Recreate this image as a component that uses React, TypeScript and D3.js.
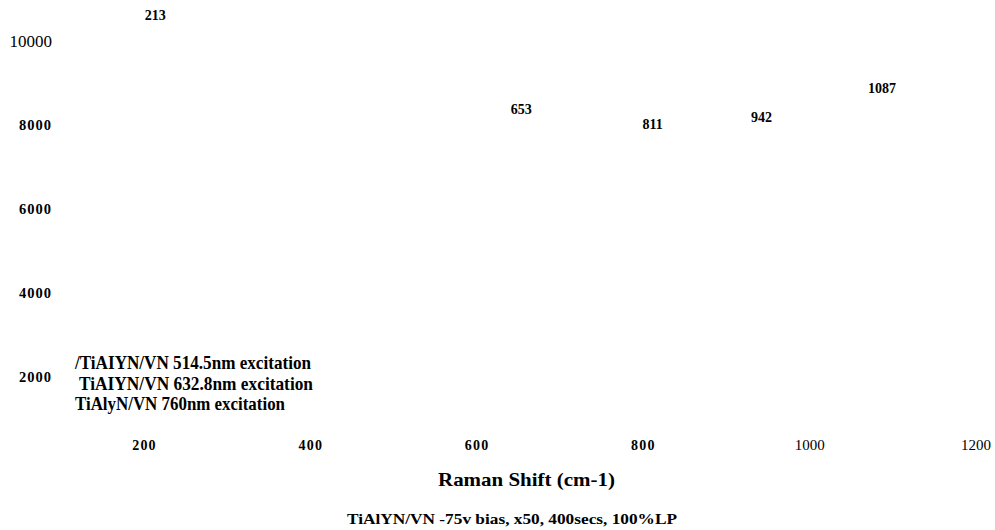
import * as d3 from "d3";

// axis ticks
const xTicks = [200, 400, 600, 800, 1000, 1200];
const xTickBold = [true, true, true, true, false, false];
const yTicks = [10000, 8000, 6000, 4000, 2000];
const yTickBold = [false, true, true, true, true];

// peak annotations (shift, label height)
const peakShift = [213, 653, 811, 942, 1087];
const peakLevel = [10620, 8380, 8030, 8180, 8880];

// legend entries
const legendNames = [
	"/TiAIYN/VN 514.5nm excitation",
	"TiAIYN/VN 632.8nm excitation",
	"TiAlyN/VN 760nm excitation",
];
const legendWidths = [236, 234, 210];
const legendIndent = [75, 79, 75];

const xTitle = "Raman Shift (cm-1)";
const footnote = "TiAlYN/VN -75v bias, x50, 400secs, 100%LP";

const W = 995;
const H = 530;
const font = "'Liberation Serif', 'Times New Roman', serif";

export default function App() {
	const x = d3.scaleLinear().domain([200, 1200]).range([144.5, 976]);
	const y = d3.scaleLinear().domain([2000, 10000]).range([377, 41]);

	return (
		<svg
			width={W}
			height={H}
			style={{ position: "absolute", left: 0, top: 0, background: "#fff" }}
			fontFamily={font}
		>
			{/* y ticks */}
			{yTicks.map((t, i) => (
				<text
					key={"y" + t}
					x={52}
					y={y(t) + (yTickBold[i] ? 5 : 6)}
					textAnchor="end"
					fontSize={yTickBold[i] ? 14.5 : 17}
					fontWeight={yTickBold[i] ? "bold" : "normal"}
					letterSpacing={yTickBold[i] ? 1 : 0}
				>
					{t}
				</text>
			))}

			{/* x ticks */}
			{xTicks.map((t, i) => (
				<text
					key={"x" + t}
					x={x(t)}
					y={450}
					textAnchor="middle"
					fontSize={xTickBold[i] ? 14 : 15}
					fontWeight={xTickBold[i] ? "bold" : "normal"}
					letterSpacing={xTickBold[i] ? 1.2 : 0}
				>
					{t}
				</text>
			))}

			{/* peak labels */}
			{peakShift.map((p, i) => (
				<text
					key={"p" + p}
					x={x(p)}
					y={y(peakLevel[i]) + 5}
					textAnchor="middle"
					fontSize={14}
					fontWeight="bold"
				>
					{p}
				</text>
			))}

			{/* legend */}
			{legendNames.map((n, i) => (
				<text
					key={n}
					x={legendIndent[i]}
					y={369 + i * 20.5}
					fontSize={19}
					fontWeight="bold"
					textLength={legendWidths[i]}
					lengthAdjust="spacingAndGlyphs"
				>
					{n}
				</text>
			))}

			<text
				x={438}
				y={486}
				fontSize={19}
				fontWeight="bold"
				textLength={177}
				lengthAdjust="spacingAndGlyphs"
			>
				{xTitle}
			</text>

			<text
				x={347}
				y={524}
				fontSize={15}
				fontWeight="bold"
				textLength={330}
				lengthAdjust="spacingAndGlyphs"
			>
				{footnote}
			</text>
		</svg>
	);
}
